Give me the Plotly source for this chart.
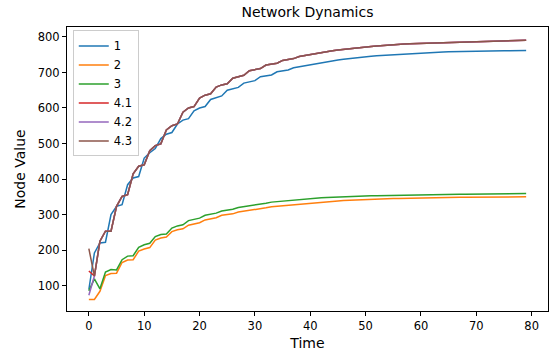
import plotly.graph_objects as go

time = list(range(80))

s1 = [89, 192, 220, 222, 300, 323, 328, 384, 403, 407, 459, 474, 486, 514, 526, 531, 555, 566, 570,
      592, 600, 604, 624, 630, 634, 650, 655, 658, 670, 674, 677, 688, 691, 693, 702, 704, 707, 713,
      716, 719, 722, 725, 728, 730.5, 733, 735, 737, 739, 741, 742.5, 744, 745.5, 747, 748, 749, 750.5,
      751.5, 752.5, 753.5, 754, 755, 755.5, 756, 757, 757.5, 758, 758.5, 759, 759.5, 759.5, 760, 760,
      760.5, 760.5, 761, 761, 761, 761.5, 761.5, 761.5]

s2 = [61, 61, 84, 128, 134, 135, 165, 172, 173, 197, 203, 207, 228, 234, 237, 252, 257, 260, 270, 274,
      277, 285, 288, 291, 298, 300, 302, 307, 309, 311, 315, 317, 319, 322, 323.5, 325, 327, 328.5, 330,
      331.5, 333, 334.5, 335.5, 336.5, 337.5, 338.5, 339.5, 340.3, 341, 341.8, 342.5, 343, 343.5, 344,
      344.5, 345, 345.5, 346, 346.4, 346.8, 347.2, 347.5, 347.8, 348, 348.3, 348.5, 348.7, 348.9, 349,
      349.2, 349.3, 349.4, 349.5, 349.6, 349.7, 349.8, 349.8, 349.9, 349.9, 350]

s3 = [85, 119, 91, 138, 145, 144, 173, 183, 184, 208, 215, 219, 238, 244, 245, 262, 268, 271, 283, 287,
      290, 298, 301, 304, 310, 312.5, 315, 320, 322, 324, 328, 330, 332, 335, 336.5, 338, 340, 341.5,
      343, 344, 345, 346, 347, 347.8, 348.6, 349.3, 350, 350.6, 351.2, 351.7, 352.2, 352.6, 353, 353.4,
      353.8, 354.1, 354.4, 354.7, 355, 355.3, 355.6, 355.8, 356, 356.2, 356.4, 356.6, 356.8, 357, 357.2,
      357.4, 357.6, 357.8, 358, 358.1, 358.3, 358.5, 358.6, 358.7, 358.8, 359]

# node 4 sub-series share the same trajectory after the first step
s4_tail = [127, 225, 253, 253, 323, 351, 356, 415, 436, 440, 480, 494, 499, 538, 550, 555, 588, 600,
           604, 628, 636, 640, 659, 665, 668, 684, 689, 692, 705, 709, 711, 721, 724, 726, 734, 737, 739,
           745, 748, 750, 754, 756, 758, 761, 763, 765, 767, 768.5, 770, 772, 773, 774.5, 776, 777, 778,
           779, 780, 781, 781.5, 782.5, 783, 784, 784.5, 785, 785.5, 786, 786.5, 787, 787.5, 788, 788.5,
           789, 789, 789.5, 790, 790, 790.5, 790.5, 791]
s41 = [141] + s4_tail
s42 = [73] + s4_tail
s43 = [204] + s4_tail

names = ["1", "2", "3", "4.1", "4.2", "4.3"]
series = [s1, s2, s3, s41, s42, s43]
colors = ["#1f77b4", "#ff7f0e", "#2ca02c", "#d62728", "#9467bd", "#8c564b"]

fig = go.Figure()
for n, s, c in zip(names, series, colors):
    fig.add_trace(go.Scatter(x=time, y=s, mode="lines", name=n,
                             line=dict(color=c, width=1.5)))

font = "DejaVu Sans, Arial, sans-serif"
fig.update_layout(
    width=551, height=356,
    margin=dict(l=67, r=3, t=27, b=45),
    plot_bgcolor="white", paper_bgcolor="white",
    font=dict(family=font, size=11.5, color="black"),
    title=dict(text="Network Dynamics", x=0.5, xref="paper", xanchor="center",
               y=1 - 12 / 356, yref="container", yanchor="middle",
               font=dict(size=14, color="black")),
    legend=dict(x=0.012, y=0.988, xanchor="left", yanchor="top",
                bgcolor="rgba(255,255,255,0.8)", bordercolor="#cccccc", borderwidth=1,
                font=dict(size=11.5)),
    showlegend=True,
)
fig.update_xaxes(range=[-3.95, 82.95], tickmode="linear", tick0=0, dtick=10,
                 showline=True, linecolor="black", linewidth=1, mirror=True,
                 ticks="outside", ticklen=4, tickcolor="black", showgrid=False, zeroline=False,
                 title=dict(text="Time", standoff=6))
fig.update_yaxes(range=[28.5, 828], tickmode="linear", tick0=100, dtick=100,
                 showline=True, linecolor="black", linewidth=1, mirror=True,
                 ticks="outside", ticklen=4, tickcolor="black", showgrid=False, zeroline=False,
                 title=dict(text="Node Value", standoff=8))

fig.write_html("out.html")
